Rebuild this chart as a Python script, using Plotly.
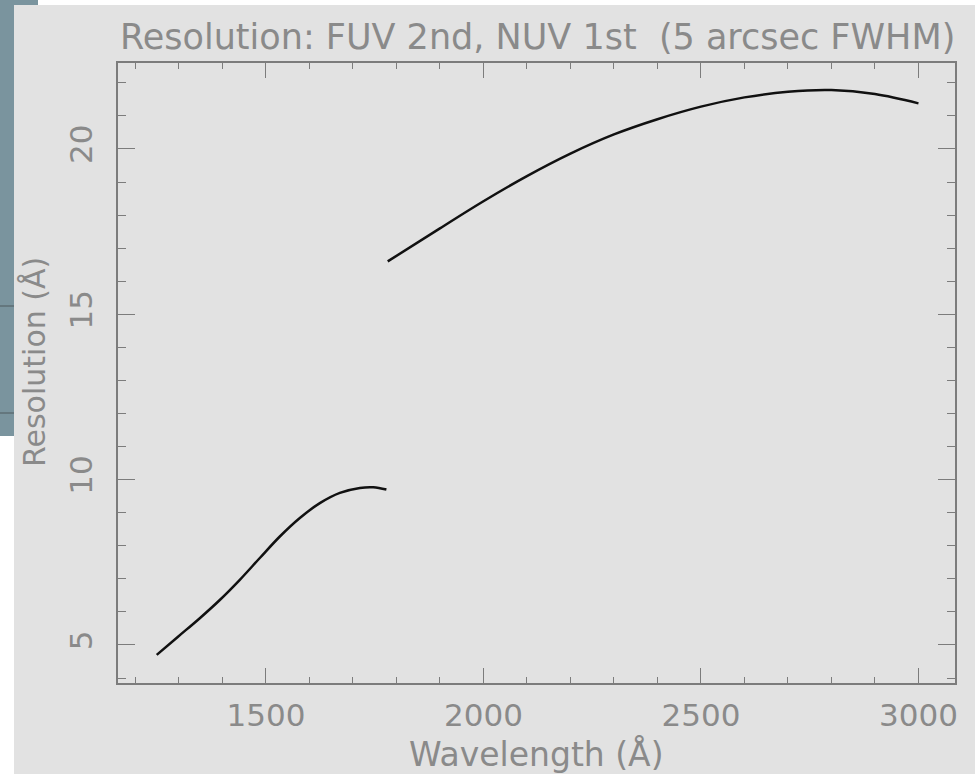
import plotly.graph_objects as go

# FUV second-order resolution curve
fuv_wave = [1249, 1298, 1348, 1394, 1440, 1486, 1532, 1578, 1624, 1670, 1716, 1747, 1777]
fuv_res = [4.70, 5.25, 5.81, 6.36, 6.97, 7.63, 8.28, 8.84, 9.29, 9.60, 9.75, 9.77, 9.70]

# NUV first-order resolution curve
nuv_wave = [1780, 1900, 2000, 2100, 2200, 2300, 2400, 2500, 2600, 2700, 2800, 2900, 3000]
nuv_res = [16.60, 17.60, 18.42, 19.18, 19.86, 20.44, 20.90, 21.28, 21.56, 21.73, 21.78, 21.66, 21.38]

x_ticks = [1500, 2000, 2500, 3000]
y_ticks = [5, 10, 15, 20]

BG = "#e2e2e2"
INK = "#8a8a8a"
AXIS = "#7c7c7c"
FONT = "DejaVu Sans"

W, H = 975, 774
L, R, T, B = 118, 955, 63, 683


def px(x):
    return (x - L) / (R - L)


def py(y):
    return (B - y) / (B - T)


fig = go.Figure()
for xs, ys in [(fuv_wave, fuv_res), (nuv_wave, nuv_res)]:
    fig.add_trace(go.Scatter(x=xs, y=ys, mode="lines",
                             line=dict(color="#111111", width=2.5, shape="spline"),
                             showlegend=False, hoverinfo="skip"))

axis_common = dict(showgrid=False, zeroline=False, showline=True, linecolor=AXIS,
                   linewidth=1.5, mirror="ticks", ticks="inside", tickcolor=AXIS,
                   tickwidth=1.2, tickfont=dict(family=FONT, size=31, color=INK))

fig.update_xaxes(range=[1160, 3084], tickvals=x_ticks, ticklen=15,
                 ticklabelstandoff=4,
                 minor=dict(dtick=100, tick0=0, ticklen=6, ticks="inside",
                            tickcolor=AXIS, tickwidth=1.2),
                 **axis_common)
fig.update_yaxes(range=[3.85, 22.6], tickvals=y_ticks, ticklen=17, tickangle=-90,
                 ticklabelstandoff=12,
                 minor=dict(dtick=1, tick0=0, ticklen=8, ticks="inside",
                            tickcolor=AXIS, tickwidth=1.2),
                 **axis_common)

annotations = [
    dict(text="Resolution: FUV 2nd, NUV 1st\u00a0\u00a0(5 arcsec FWHM)",
         x=px(537), y=py(37), xref="paper", yref="paper", showarrow=False,
         xanchor="center", yanchor="middle",
         font=dict(family=FONT, size=35, color=INK)),
    dict(text="Wavelength (Å)", x=px(536), y=py(754), xref="paper", yref="paper",
         showarrow=False, xanchor="center", yanchor="middle",
         font=dict(family=FONT, size=33, color=INK)),
    dict(text="Resolution (Å)", x=px(34), y=py(362), xref="paper", yref="paper",
         showarrow=False, xanchor="center", yanchor="middle", textangle=-90,
         font=dict(family=FONT, size=30, color=INK)),
]

# frame around the page: side strip and a thin top border
shapes = [
    dict(type="rect", xref="paper", yref="paper", x0=px(0), x1=px(14), y0=py(436), y1=py(0),
         fillcolor="#7a949e", line_width=0),
    dict(type="rect", xref="paper", yref="paper", x0=px(14), x1=px(38), y0=py(5), y1=py(0),
         fillcolor="#7a949e", line_width=0),
    dict(type="rect", xref="paper", yref="paper", x0=px(38), x1=px(975), y0=py(5), y1=py(0),
         fillcolor="#ffffff", line_width=0),
    dict(type="rect", xref="paper", yref="paper", x0=px(0), x1=px(14), y0=py(774), y1=py(436),
         fillcolor="#ffffff", line_width=0),
    dict(type="line", xref="paper", yref="paper", x0=px(0), x1=px(14), y0=py(306), y1=py(306),
         line=dict(color="#4e5a5e", width=1)),
    dict(type="line", xref="paper", yref="paper", x0=px(0), x1=px(14), y0=py(413), y1=py(413),
         line=dict(color="#4e5a5e", width=1)),
]

fig.update_layout(width=W, height=H, margin=dict(l=L, r=W - R, t=T, b=H - B),
                  paper_bgcolor=BG, plot_bgcolor=BG,
                  annotations=annotations, shapes=shapes)

fig.write_html("out.html")
